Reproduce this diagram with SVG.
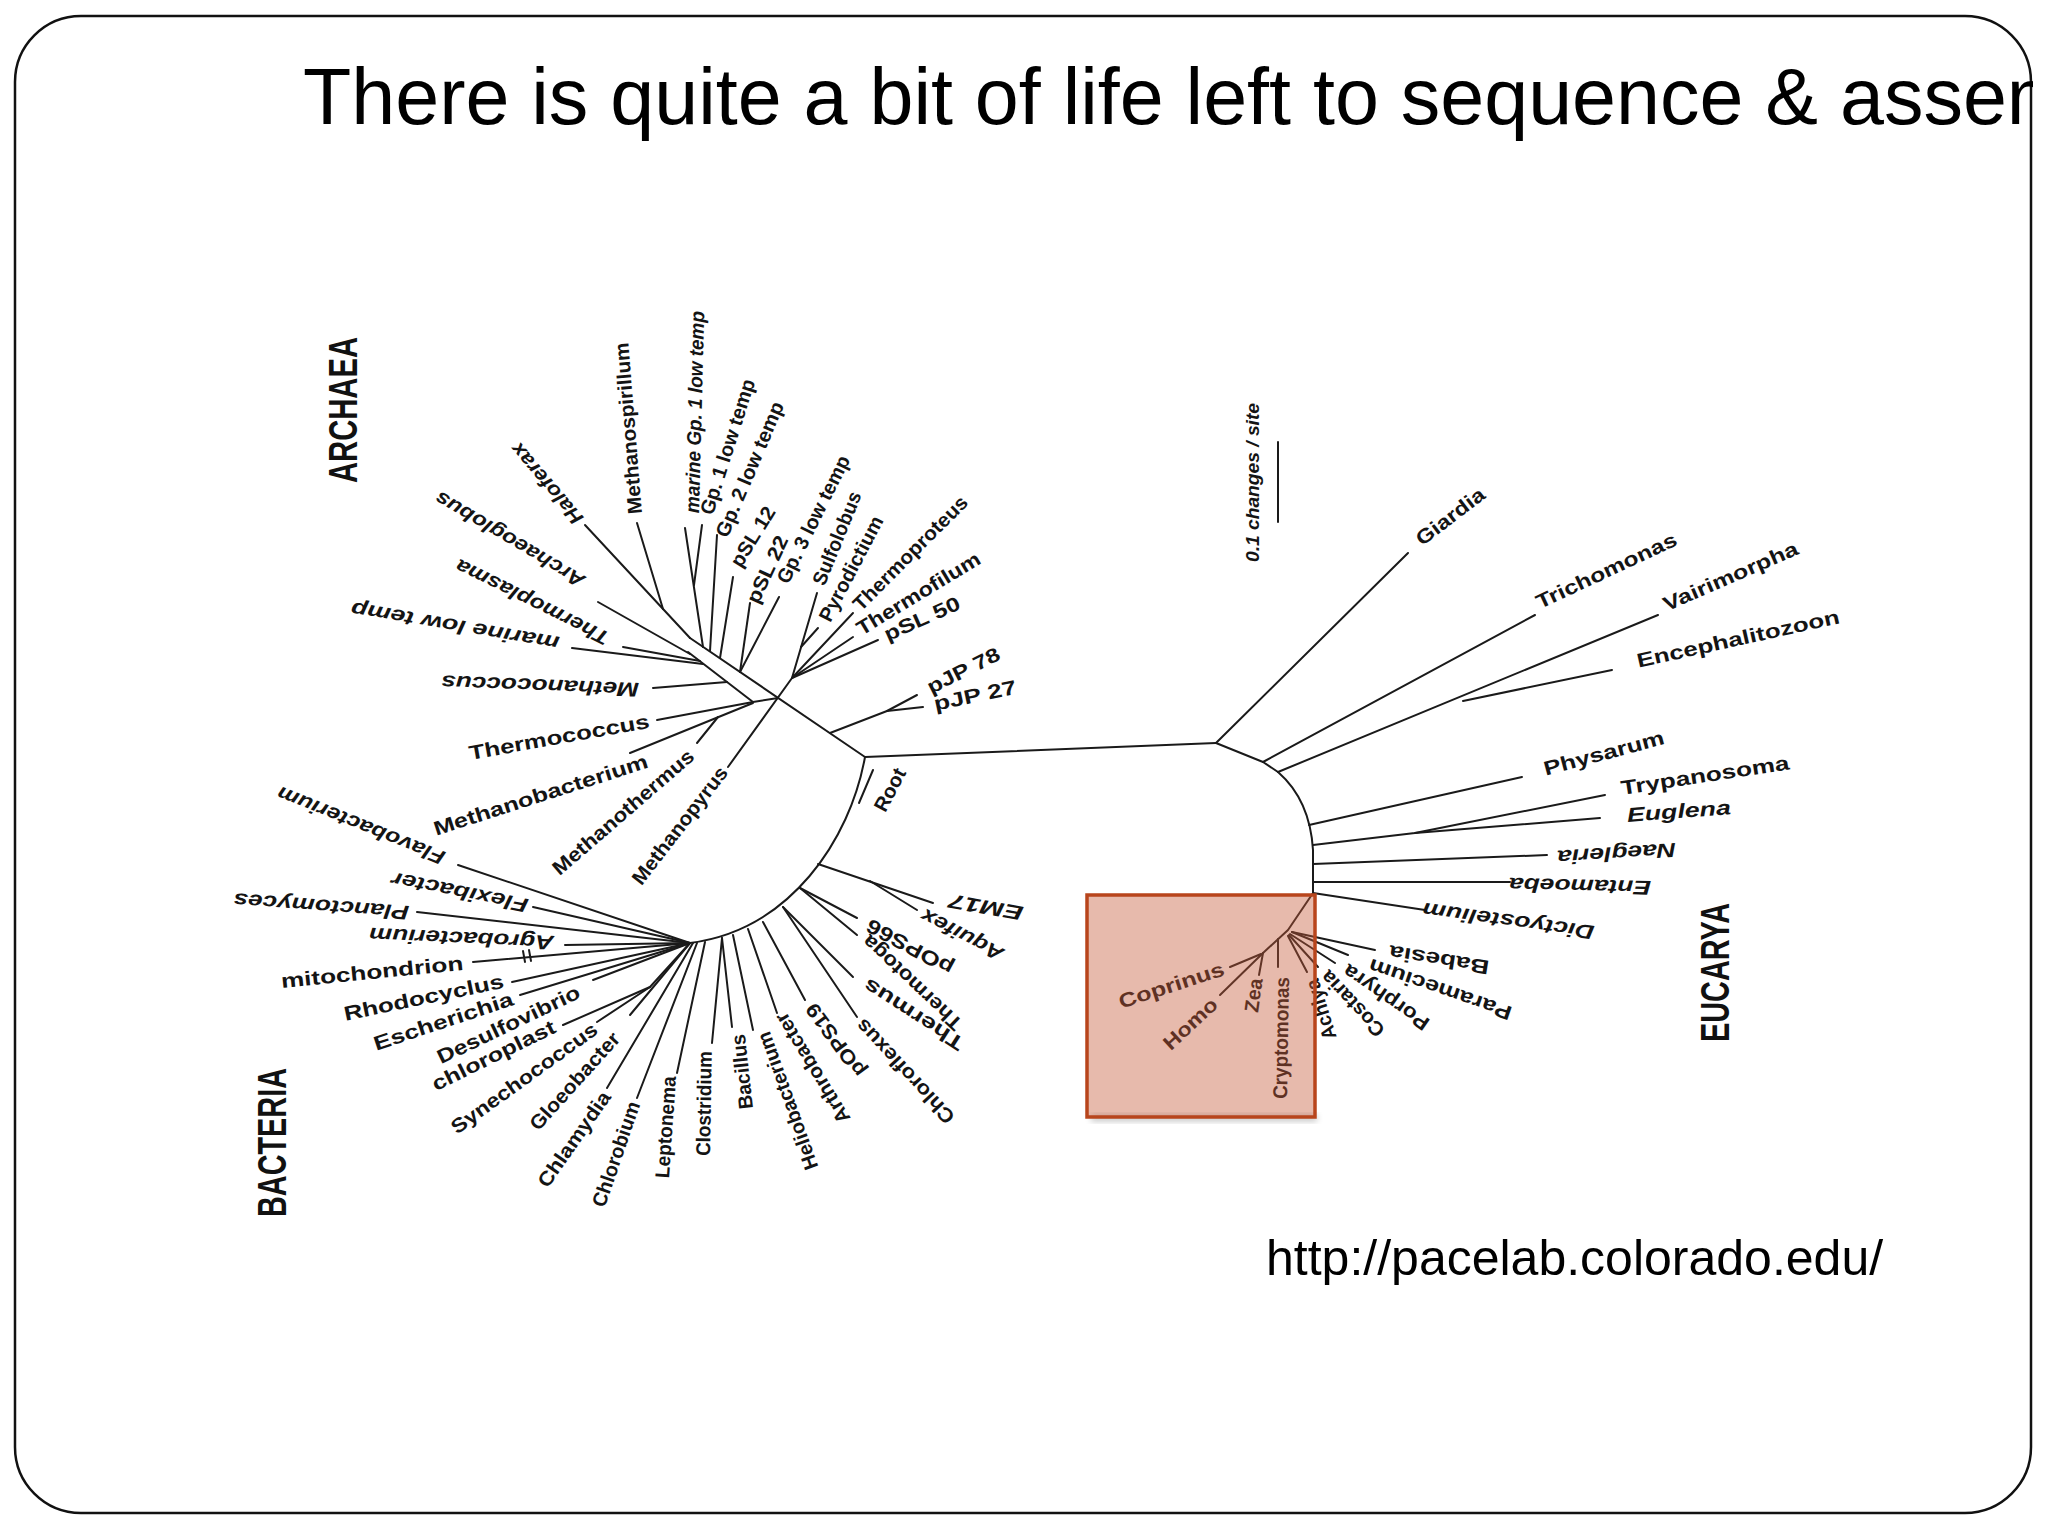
<svg xmlns="http://www.w3.org/2000/svg" width="2048" height="1536" viewBox="0 0 2048 1536">
<defs>
<style>
.br{fill:none;stroke:#1a1a1a;stroke-width:2;stroke-linecap:round;stroke-linejoin:round}
.l{font-family:"Liberation Sans",Arial,sans-serif;font-size:20px;font-weight:bold;fill:#141414;dominant-baseline:central}
.i{font-style:italic}
.dom{font-family:"Liberation Sans",Arial,sans-serif;font-size:40px;font-weight:bold;fill:#111;dominant-baseline:central}
.title{font-family:"Liberation Sans",Arial,sans-serif;font-size:79px;fill:#000}
.url{font-family:"Liberation Sans",Arial,sans-serif;font-size:50px;fill:#000}
</style>
<clipPath id="slide"><rect x="0" y="0" width="2033" height="1536"/></clipPath>
<filter id="blur" x="-10%" y="-50%" width="120%" height="200%"><feGaussianBlur stdDeviation="3"/></filter>
</defs>
<rect x="0" y="0" width="2048" height="1536" fill="#fff"/>
<rect id="frame" x="15" y="16" width="2016" height="1497" rx="66" ry="66" fill="none" stroke="#111" stroke-width="2.5"/>
<g id="title" clip-path="url(#slide)"><text class="title" x="303" y="124">There is quite a bit of life left to sequence &amp; assem</text></g>

<g id="branches">
<!-- central -->
<path class="br" d="M865,757 L1216,743"/>
<!-- Eucarya -->
<path class="br" d="M1216,743 L1408,553"/>
<path class="br" d="M1216,743 L1263,762 L1278,772"/>
<path class="br" d="M1263,762 L1535,615"/>
<path class="br" d="M1278,772 L1658,615"/>
<path class="br" d="M1463,701 L1612,670"/>
<path class="br" d="M1278,772 Q1310,800 1313,850 L1313,893 L1288,930 L1263,953"/>
<path class="br" d="M1309,825 L1522,777"/>
<path class="br" d="M1313,845 L1415,833 L1605,795"/>
<path class="br" d="M1415,833 L1600,818"/>
<path class="br" d="M1313,864 L1547,855"/>
<path class="br" d="M1313,882 L1510,882"/>
<path class="br" d="M1313,893 L1425,910"/>
<path class="br" d="M1292,932 L1375,950"/>
<path class="br" d="M1292,932 L1348,955"/>
<path class="br" d="M1290,934 L1335,963"/>
<path class="br" d="M1289,935 L1318,967"/>
<path class="br" d="M1288,936 L1307,972"/>
<path class="br" d="M1278,939 L1278,967"/>
<path class="br" d="M1263,953 L1259,975"/>
<path class="br" d="M1263,953 L1220,995"/>
<path class="br" d="M1261,954 L1230,967"/>
<!-- Archaea -->
<path class="br" d="M865,757 L690,638"/>
<path class="br" d="M690,638 L585,525"/>
<path class="br" d="M663,609 L637,523"/>
<path class="br" d="M703,647 L685,528"/>
<path class="br" d="M694,585 L702,525"/>
<path class="br" d="M710,651 L717,535"/>
<path class="br" d="M720,658 L733,577"/>
<path class="br" d="M740,672 L750,603"/>
<path class="br" d="M740,672 L779,597"/>
<path class="br" d="M688,652 L753,702 L778,698"/>
<path class="br" d="M690,654 L598,602"/>
<path class="br" d="M700,661 L623,647"/>
<path class="br" d="M703,664 L572,648"/>
<path class="br" d="M727,682 L653,688"/>
<path class="br" d="M753,702 L657,720"/>
<path class="br" d="M753,703 L630,753"/>
<path class="br" d="M718,717 L697,743"/>
<path class="br" d="M728,767 L792,678"/>
<path class="br" d="M792,678 L817,593"/>
<path class="br" d="M801,647 L818,628"/>
<path class="br" d="M792,678 L853,613"/>
<path class="br" d="M792,678 L853,637"/>
<path class="br" d="M792,678 L878,640"/>
<path class="br" d="M830,733 L887,711 L917,695"/>
<path class="br" d="M887,711 L923,707"/>
<!-- Bacteria -->
<path class="br" d="M865,757 C850,840 790,930 690,943"/>
<path class="br" d="M873,770 L859,803"/>
<path class="br" d="M818,864 L933,903"/>
<path class="br" d="M870,881 L917,910"/>
<path class="br" d="M800,888 L857,918"/>
<path class="br" d="M800,888 L857,935"/>
<path class="br" d="M783,907 L853,977"/>
<path class="br" d="M783,907 L857,1017"/>
<path class="br" d="M763,922 L805,1000"/>
<path class="br" d="M748,929 L777,1013"/>
<path class="br" d="M733,935 L753,1030"/>
<path class="br" d="M722,938 L732,1027"/>
<path class="br" d="M722,938 L712,1043"/>
<path class="br" d="M705,942 L677,1073"/>
<path class="br" d="M697,943 L637,1098"/>
<path class="br" d="M693,943 L607,1088"/>
<path class="br" d="M690,943 L630,1015"/>
<path class="br" d="M690,943 L650,987 L597,1022"/>
<path class="br" d="M650,987 L563,1025"/>
<path class="br" d="M690,943 L593,980"/>
<path class="br" d="M690,943 L520,995"/>
<path class="br" d="M690,943 L512,982"/>
<path class="br" d="M690,943 L473,962"/>
<path class="br" d="M523,951 L525,962 M529,950 L531,961"/>
<path class="br" d="M690,943 L565,945"/>
<path class="br" d="M690,943 L417,912"/>
<path class="br" d="M690,943 L533,907"/>
<path class="br" d="M690,943 L458,865"/>
<!-- scale bar -->
<path class="br" d="M1278,442 L1278,522"/>
</g>

<!-- domain labels -->
<g id="ARCHAEA"><text class="dom" transform="translate(343,483) rotate(-90)" textLength="146" lengthAdjust="spacingAndGlyphs">ARCHAEA</text></g>
<g id="BACTERIA"><text class="dom" transform="translate(272,1217) rotate(-90)" textLength="149" lengthAdjust="spacingAndGlyphs">BACTERIA</text></g>
<g id="EUCARYA"><text class="dom" transform="translate(1715,1042) rotate(-90)" textLength="139" lengthAdjust="spacingAndGlyphs">EUCARYA</text></g>
<g id="scale"><text class="l i" style="font-size:19px" transform="translate(1252,562) rotate(-90)" textLength="159" lengthAdjust="spacingAndGlyphs">0.1 changes / site</text></g>
<g id="root"><text class="l" transform="translate(879,810) rotate(-62)" textLength="46" lengthAdjust="spacingAndGlyphs">Root</text></g>

<!-- Eucarya leaves -->
<g id="Giardia"><text class="l" transform="translate(1418,541) rotate(-37.4)" textLength="81" lengthAdjust="spacingAndGlyphs">Giardia</text></g>
<g id="Trichomonas"><text class="l" transform="translate(1537,603) rotate(-25.1)" textLength="153" lengthAdjust="spacingAndGlyphs">Trichomonas</text></g>
<g id="Vairimorpha"><text class="l" transform="translate(1664,605) rotate(-23.5)" textLength="145" lengthAdjust="spacingAndGlyphs">Vairimorpha</text></g>
<g id="Encephalitozoon"><text class="l" transform="translate(1637,661) rotate(-12.5)" textLength="207" lengthAdjust="spacingAndGlyphs">Encephalitozoon</text></g>
<g id="Physarum"><text class="l" transform="translate(1544,769) rotate(-15)" textLength="124" lengthAdjust="spacingAndGlyphs">Physarum</text></g>
<g id="Trypanosoma"><text class="l" transform="translate(1621,788) rotate(-8.7)" textLength="170" lengthAdjust="spacingAndGlyphs">Trypanosoma</text></g>
<g id="Euglena"><text class="l i" transform="translate(1627,815) rotate(-4.4)" textLength="104" lengthAdjust="spacingAndGlyphs">Euglena</text></g>
<g id="Naegleria"><text class="l i" transform="translate(1676,850) rotate(176.3)" textLength="119" lengthAdjust="spacingAndGlyphs">Naegleria</text></g>
<g id="Entamoeba"><text class="l i" transform="translate(1651,888) rotate(181.3)" textLength="142" lengthAdjust="spacingAndGlyphs">Entamoeba</text></g>
<g id="Dictyostelium"><text class="l i" transform="translate(1594,933) rotate(187.8)" textLength="173" lengthAdjust="spacingAndGlyphs">Dictyostelium</text></g>
<g id="Babesia"><text class="l" transform="translate(1489,968) rotate(189)" textLength="101" lengthAdjust="spacingAndGlyphs">Babesia</text></g>
<g id="Paramecium"><text class="l" transform="translate(1511,1014) rotate(199)" textLength="150" lengthAdjust="spacingAndGlyphs">Paramecium</text></g>
<g id="Porphyra"><text class="l" transform="translate(1427,1026) rotate(214.8)" textLength="100" lengthAdjust="spacingAndGlyphs">Porphyra</text></g>
<g id="Costaria"><text class="l" transform="translate(1381,1034) rotate(226.7)" textLength="83" lengthAdjust="spacingAndGlyphs">Costaria</text></g>
<g id="Achlya"><text class="l" transform="translate(1330,1039) rotate(252.6)" textLength="62" lengthAdjust="spacingAndGlyphs">Achlya</text></g>
<g id="Cryptomonas"><text class="l" transform="translate(1280,1099) rotate(-89)" textLength="122" lengthAdjust="spacingAndGlyphs">Cryptomonas</text></g>
<g id="Zea"><text class="l" transform="translate(1251,1012) rotate(-82)" textLength="34" lengthAdjust="spacingAndGlyphs">Zea</text></g>
<g id="Homo"><text class="l" transform="translate(1166,1046) rotate(-42.8)" textLength="66" lengthAdjust="spacingAndGlyphs">Homo</text></g>
<g id="Coprinus"><text class="l" transform="translate(1119,1002) rotate(-17.9)" textLength="110" lengthAdjust="spacingAndGlyphs">Coprinus</text></g>

<!-- Bacteria leaves -->
<g id="EM17"><text class="l i" transform="translate(1023,914) rotate(190)" textLength="75" lengthAdjust="spacingAndGlyphs">EM17</text></g>
<g id="Aquifex"><text class="l i" transform="translate(1002,956) rotate(207.5)" textLength="90" lengthAdjust="spacingAndGlyphs">Aquifex</text></g>
<g id="pOPS66"><text class="l" transform="translate(952,970) rotate(208.4)" textLength="96" lengthAdjust="spacingAndGlyphs">pOPS66</text></g>
<g id="Thermotoga"><text class="l" transform="translate(959,1027) rotate(223.3)" textLength="129" lengthAdjust="spacingAndGlyphs">Thermotoga</text></g>
<g id="Thermus"><text class="l" transform="translate(962,1046) rotate(212.8)" textLength="115" lengthAdjust="spacingAndGlyphs">Thermus</text></g>
<g id="Chloroflexus"><text class="l" transform="translate(951,1121) rotate(227)" textLength="135" lengthAdjust="spacingAndGlyphs">Chloroflexus</text></g>
<g id="pOPS19"><text class="l" transform="translate(861,1075) rotate(233.7)" textLength="86" lengthAdjust="spacingAndGlyphs">pOPS19</text></g>
<g id="Arthrobacter"><text class="l" transform="translate(845,1122) rotate(238.7)" textLength="126" lengthAdjust="spacingAndGlyphs">Arthrobacter</text></g>
<g id="Heliobacterium"><text class="l" transform="translate(812,1169) rotate(250.2)" textLength="145" lengthAdjust="spacingAndGlyphs">Heliobacterium</text></g>
<g id="Bacillus"><text class="l" transform="translate(746,1109) rotate(263.7)" textLength="75" lengthAdjust="spacingAndGlyphs">Bacillus</text></g>
<g id="Clostridium"><text class="l" transform="translate(703,1156) rotate(-89)" textLength="105" lengthAdjust="spacingAndGlyphs">Clostridium</text></g>
<g id="Leptonema"><text class="l" transform="translate(662,1178) rotate(-86)" textLength="102" lengthAdjust="spacingAndGlyphs">Leptonema</text></g>
<g id="Chlorobium"><text class="l" transform="translate(598,1206) rotate(-71)" textLength="110" lengthAdjust="spacingAndGlyphs">Chlorobium</text></g>
<g id="Chlamydia"><text class="l" transform="translate(542,1185) rotate(-55.2)" textLength="112" lengthAdjust="spacingAndGlyphs">Chlamydia</text></g>
<g id="Gloeobacter"><text class="l" transform="translate(533,1127) rotate(-47.9)" textLength="124" lengthAdjust="spacingAndGlyphs">Gloeobacter</text></g>
<g id="Synechococcus"><text class="l" transform="translate(453,1129) rotate(-35.7)" textLength="175" lengthAdjust="spacingAndGlyphs">Synechococcus</text></g>
<g id="chloroplast"><text class="l" transform="translate(433,1085) rotate(-26.1)" textLength="135" lengthAdjust="spacingAndGlyphs">chloroplast</text></g>
<g id="Desulfovibrio"><text class="l" transform="translate(438,1058) rotate(-25.5)" textLength="156" lengthAdjust="spacingAndGlyphs">Desulfovibrio</text></g>
<g id="Escherichia"><text class="l" transform="translate(374,1044) rotate(-18.3)" textLength="146" lengthAdjust="spacingAndGlyphs">Escherichia</text></g>
<g id="Rhodocyclus"><text class="l" transform="translate(344,1014) rotate(-11.8)" textLength="163" lengthAdjust="spacingAndGlyphs">Rhodocyclus</text></g>
<g id="mitochondrion"><text class="l" transform="translate(281,981) rotate(-5.7)" textLength="183" lengthAdjust="spacingAndGlyphs">mitochondrion</text></g>
<g id="Agrobacterium"><text class="l i" transform="translate(554,943) rotate(182.6)" textLength="185" lengthAdjust="spacingAndGlyphs">Agrobacterium</text></g>
<g id="Planctomyces"><text class="l i" transform="translate(409,913) rotate(184.2)" textLength="176" lengthAdjust="spacingAndGlyphs">Planctomyces</text></g>
<g id="Flexibacter"><text class="l i" transform="translate(528,906) rotate(191.3)" textLength="139" lengthAdjust="spacingAndGlyphs">Flexibacter</text></g>
<g id="Flavobacterium"><text class="l i" transform="translate(444,859) rotate(201.8)" textLength="179" lengthAdjust="spacingAndGlyphs">Flavobacterium</text></g>

<!-- Archaea leaves -->
<g id="Haloferax"><text class="l i" transform="translate(579,522) rotate(229.6)" textLength="100" lengthAdjust="spacingAndGlyphs">Haloferax</text></g>
<g id="Methanospirillum"><text class="l" transform="translate(635,514) rotate(-94.6)" textLength="172" lengthAdjust="spacingAndGlyphs">Methanospirillum</text></g>
<g id="marineGp1"><text class="l i" transform="translate(692,513) rotate(-88.5)" textLength="202" lengthAdjust="spacingAndGlyphs">marine Gp. 1 low temp</text></g>
<g id="Gp1"><text class="l" transform="translate(706,514) rotate(-72.4)" textLength="141" lengthAdjust="spacingAndGlyphs">Gp. 1 low temp</text></g>
<g id="Gp2"><text class="l" transform="translate(721,536) rotate(-66.9)" textLength="145" lengthAdjust="spacingAndGlyphs">Gp. 2 low temp</text></g>
<g id="pSL12"><text class="l" transform="translate(735,565) rotate(-58.3)" textLength="67" lengthAdjust="spacingAndGlyphs">pSL 12</text></g>
<g id="pSL22"><text class="l" transform="translate(752,602) rotate(-65)" textLength="72" lengthAdjust="spacingAndGlyphs">pSL 22</text></g>
<g id="Gp3"><text class="l" transform="translate(782,582) rotate(-63.6)" textLength="140" lengthAdjust="spacingAndGlyphs">Gp. 3 low temp</text></g>
<g id="Sulfolobus"><text class="l" transform="translate(818,584) rotate(-67.8)" textLength="99" lengthAdjust="spacingAndGlyphs">Sulfolobus</text></g>
<g id="Pyrodictium"><text class="l" transform="translate(824,620) rotate(-62.4)" textLength="116" lengthAdjust="spacingAndGlyphs">Pyrodictium</text></g>
<g id="Thermoproteus"><text class="l" transform="translate(856,607) rotate(-45)" textLength="153" lengthAdjust="spacingAndGlyphs">Thermoproteus</text></g>
<g id="Thermofilum"><text class="l" transform="translate(858,630) rotate(-31.3)" textLength="141" lengthAdjust="spacingAndGlyphs">Thermofilum</text></g>
<g id="pSL50"><text class="l" transform="translate(885,635) rotate(-24)" textLength="81" lengthAdjust="spacingAndGlyphs">pSL 50</text></g>
<g id="pJP78"><text class="l" transform="translate(928,688) rotate(-26.6)" textLength="79" lengthAdjust="spacingAndGlyphs">pJP 78</text></g>
<g id="pJP27"><text class="l" transform="translate(934,704) rotate(-12)" textLength="84" lengthAdjust="spacingAndGlyphs">pJP 27</text></g>
<g id="Archaeoglobus"><text class="l i" transform="translate(583,583) rotate(210.5)" textLength="170" lengthAdjust="spacingAndGlyphs">Archaeoglobus</text></g>
<g id="Thermoplasma"><text class="l i" transform="translate(608,640) rotate(206.4)" textLength="169" lengthAdjust="spacingAndGlyphs">Thermoplasma</text></g>
<g id="marinelow"><text class="l i" transform="translate(559,644) rotate(189.6)" textLength="211" lengthAdjust="spacingAndGlyphs">marine low temp</text></g>
<g id="Methanococcus"><text class="l i" transform="translate(639,690) rotate(182.2)" textLength="198" lengthAdjust="spacingAndGlyphs">Methanococcus</text></g>
<g id="Thermococcus"><text class="l" transform="translate(469,753) rotate(-10.1)" textLength="183" lengthAdjust="spacingAndGlyphs">Thermococcus</text></g>
<g id="Methanobacterium"><text class="l" transform="translate(434,829) rotate(-17.8)" textLength="224" lengthAdjust="spacingAndGlyphs">Methanobacterium</text></g>
<g id="Methanothermus"><text class="l" transform="translate(555,871) rotate(-40.9)" textLength="180" lengthAdjust="spacingAndGlyphs">Methanothermus</text></g>
<g id="Methanopyrus"><text class="l" transform="translate(636,882) rotate(-52.4)" textLength="143" lengthAdjust="spacingAndGlyphs">Methanopyrus</text></g>

<!-- highlight box -->
<g id="highlight">
<rect x="1091" y="1115" width="226" height="6" fill="#000" opacity="0.25" filter="url(#blur)"/>
<rect x="1087" y="895" width="228" height="222" fill="#c55a3a" fill-opacity="0.42" stroke="#b8451c" stroke-width="3.5"/>
</g>

<g id="source"><text class="url" x="1266" y="1275">http://pacelab.colorado.edu/</text></g>
</svg>
